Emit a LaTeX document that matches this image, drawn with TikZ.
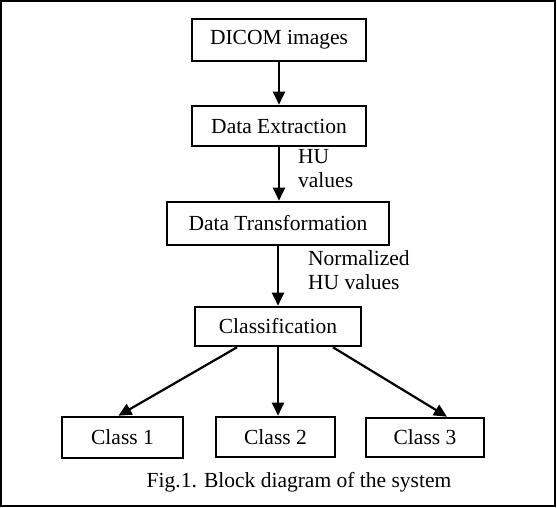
\documentclass[tikz,border=0pt]{standalone}
\usepackage{fontspec}
\setmainfont{Liberation Serif}
\usetikzlibrary{arrows.meta}

\begin{document}
\begin{tikzpicture}[x=1pt,y=-1pt,
  block/.style={draw,line width=2.6pt,inner sep=0pt,font=\fontsize{21.5}{24}\selectfont},
  flow/.style={line width=2.2pt,-{Triangle[width=12pt,length=13pt]}},
  note/.style={anchor=west,align=left,inner sep=0pt,font=\fontsize{21.5}{24}\selectfont}]
\useasboundingbox (0,0) rectangle (557,508);
%frame
\draw[line width=2pt] (1,1) rectangle (555,506);
%pipeline
\node[block,minimum width=174pt,minimum height=42pt] (dicom) at (279,40) {DICOM images};
\node[block,minimum width=174pt,minimum height=40pt] (extract) at (279,126) {Data Extraction};
\node[block,minimum width=222pt,minimum height=43pt] (transform) at (278,223.5) {Data Transformation};
\node[block,minimum width=166pt,minimum height=39pt] (classify) at (278,326.5) {Classification};
\draw[flow] (dicom) -- (extract.north -| dicom);
\draw[flow] (extract) -- (transform.north -| extract);
\draw[flow] (transform) -- (classify);
\node[note] (hu) at (298,169) {HU\\values};
\node[note] (norm) at (308,270) {Normalized\\HU values};
%classes
\node[block,minimum width=121pt,minimum height=41pt] (class1) at (122.5,437.5) {Class 1};
\node[block,minimum width=119pt,minimum height=40pt] (class2) at (275.5,437) {Class 2};
\node[block,minimum width=118pt,minimum height=39pt] (class3) at (425,437.5) {Class 3};
\draw[flow] ([xshift=-41pt]classify.south) -- ([xshift=-4pt]class1.north);
\draw[flow] (classify.south) -- (classify.south |- class2.north);
\draw[flow] ([xshift=55pt]classify.south) -- ([xshift=22pt]class3.north);
%caption
\node[font=\fontsize{21.5}{24}\selectfont,inner sep=0pt] (caption) at (299,482) {Fig.1. Block diagram of the system};
\end{tikzpicture}
\end{document}
